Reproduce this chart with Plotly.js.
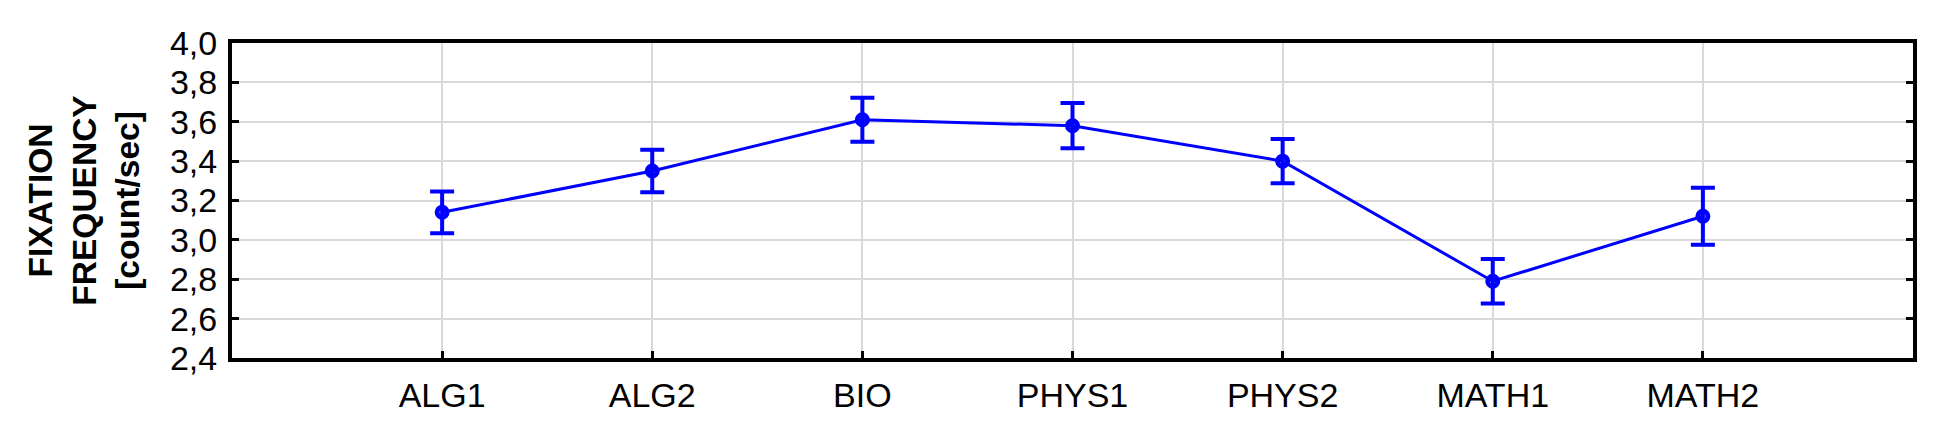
<!DOCTYPE html>
<html>
<head>
<meta charset="utf-8">
<script src="https://cdn.plot.ly/plotly-3.0.1.min.js"></script>
<style>
  html,body{margin:0;padding:0;background:#fff;}
  #chart{width:1940px;height:431px;}
</style>
</head>
<body>
<div id="chart"></div>
<script>
// tasks on the x axis
const tasks = ['ALG1','ALG2','BIO','PHYS1','PHYS2','MATH1','MATH2'];
// mean fixation frequency (count/sec) and half-width of the error bar
const meanFreq = [3.14, 3.35, 3.61, 3.58, 3.40, 2.79, 3.12];
const errFreq  = [0.106, 0.108, 0.112, 0.115, 0.113, 0.113, 0.145];
// y tick labels (comma decimals)
const yTicks = [2.4, 2.6, 2.8, 3.0, 3.2, 3.4, 3.6, 3.8, 4.0];
const yTickText = ['2,4','2,6','2,8','3,0','3,2','3,4','3,6','3,8','4,0'];

const font = 'Arial, "Liberation Sans", sans-serif';
const blue = '#0000ff';

const trace = {
  type:'scatter', mode:'lines+markers',
  x: tasks, y: meanFreq,
  line:{color:blue, width:3},
  marker:{symbol:'circle-open', size:10, color:blue, line:{color:blue, width:5}},
  error_y:{type:'data', array:errFreq, visible:true, color:blue, thickness:4, width:12},
  showlegend:false, hoverinfo:'skip'
};

const layout = {
  width:1940, height:431,
  margin:{l:232, r:27, t:43, b:73, pad:0},
  paper_bgcolor:'#fff', plot_bgcolor:'#fff',
  font:{family:font, size:34, color:'#000'},
  xaxis:{
    type:'category',
    range:[-1, 7],
    showgrid:true, gridcolor:'#d9d9d9', gridwidth:2,
    showline:true, linecolor:'#000', linewidth:4, mirror:true,
    ticks:'inside', ticklen:7, tickwidth:3, tickcolor:'#000',
    ticklabelstandoff:4,
    tickfont:{family:font, size:34, color:'#000'},
    zeroline:false, fixedrange:true
  },
  yaxis:{
    range:[2.4, 4.0],
    tickvals:yTicks, ticktext:yTickText,
    showgrid:true, gridcolor:'#d9d9d9', gridwidth:2,
    showline:true, linecolor:'#000', linewidth:4, mirror:'ticks',
    ticks:'inside', ticklen:7, tickwidth:3, tickcolor:'#000',
    ticklabelstandoff:4,
    tickfont:{family:font, size:34, color:'#000'},
    title:{text:'FIXATION<br>FREQUENCY<br>[count/sec]', standoff:21,
      font:{family:font, size:33.5, color:'#000', weight:'bold'}},
    zeroline:false, fixedrange:true, automargin:false
  }
};

Plotly.newPlot('chart', [trace], layout, {staticPlot:true, displayModeBar:false});
</script>
</body>
</html>
